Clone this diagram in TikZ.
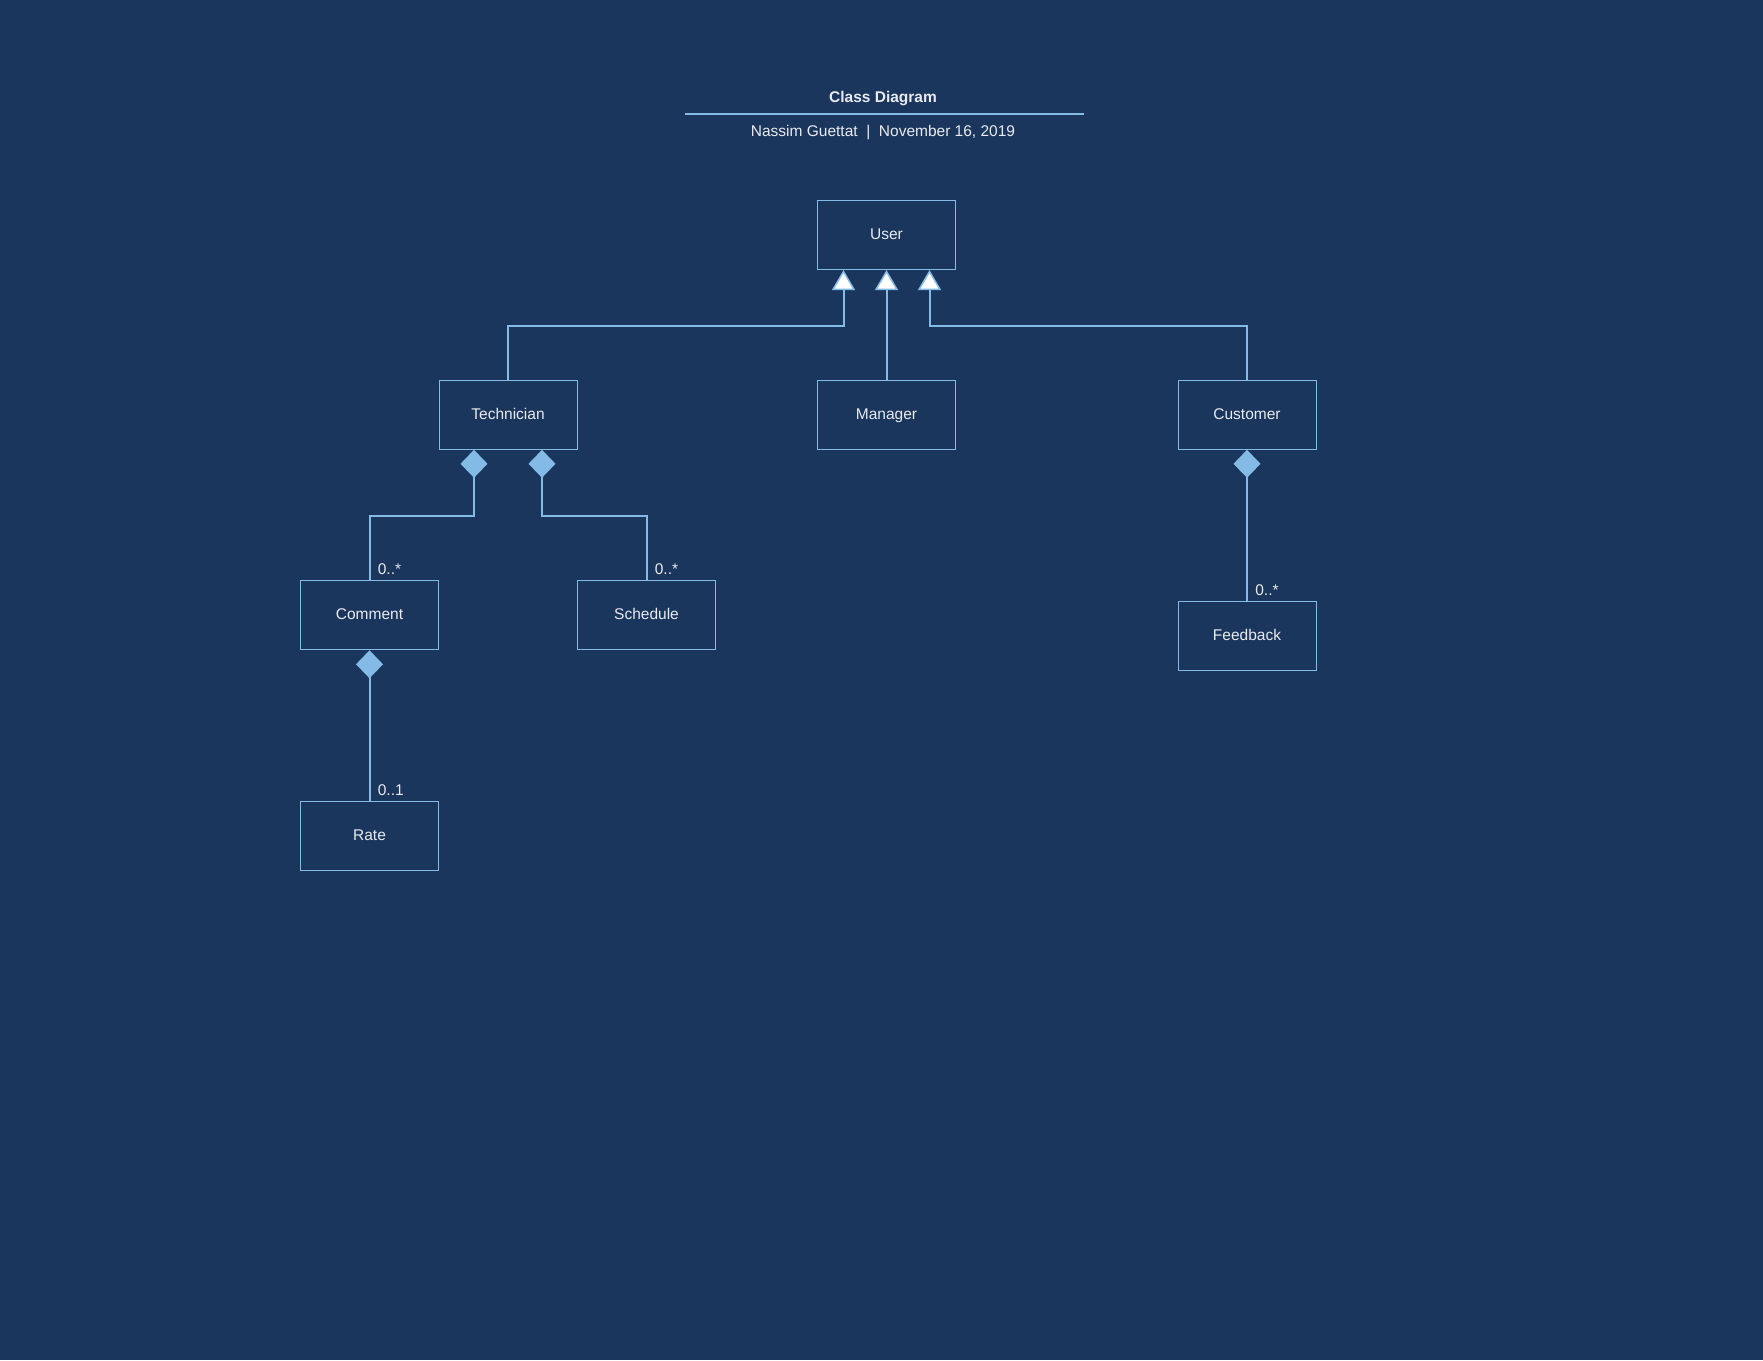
\documentclass[tikz,border=0pt]{standalone}
\usepackage{fontspec}
\setmainfont{Liberation Sans}
\usetikzlibrary{arrows.meta, calc}

\definecolor{navybg}{RGB}{27,54,93}
\definecolor{lineblue}{RGB}{132,187,230}
\definecolor{labelgray}{RGB}{232,234,238}

\begin{document}
\begin{tikzpicture}[x=1pt, y=-1pt,
    every node/.style={text=labelgray, font=\fontsize{15.5}{18}\selectfont},
    classbox/.style={draw=lineblue, line width=1pt, minimum width=138pt, minimum height=69pt,
        inner sep=0pt, text height=11pt, text depth=2pt},
    inherit/.style={draw=lineblue, line width=2pt,
        {Triangle[length=20pt, width=23pt, fill=white, line width=1.5pt]}-},
    compose/.style={draw=lineblue, line width=2pt,
        {Diamond[length=28pt, width=27pt, fill=lineblue]}-},
    mult/.style={anchor=base west, xshift=4pt, yshift=5.5pt}]
        % --- SETTINGS ---
        \def\W{1763}       % page width
        \def\H{1360}       % page height
        \def\Rise{55.5}    % drop from User to the bar
        \def\Drop{66}      % drop from a whole to its bar

        % --- BACKGROUND ---
        \fill[navybg] (0, 0) rectangle (\W, \H);

        % --- TITLE ---
        \node[font=\bfseries\fontsize{15.5}{18}\selectfont] (title) at (883, 99) {Class Diagram};
        \draw[lineblue, line width=2pt] (685, 113.7) -- (1084, 113.7);
        \node (subtitle) at (883, 133) {Nassim Guettat \ | \ November 16, 2019};

        % --- CLASSES ---
        \node[classbox] (user) at (886.5, 235) {User};
        \node[classbox] (technician) at (508, 414.8) {Technician};
        \node[classbox] (manager) at (886.5, 414.8) {Manager};
        \node[classbox] (customer) at (1247, 414.8) {Customer};
        \node[classbox] (comment) at (369.5, 615.3) {Comment};
        \node[classbox] (schedule) at (646.5, 615.3) {Schedule};
        \node[classbox] (feedback) at (1247, 636) {Feedback};
        \node[classbox] (rate) at (369.5, 835.5) {Rate};

        % --- ATTACHMENT POINTS ---
        \coordinate (u1) at ($(user.south)+(-43, 0)$);
        \coordinate (u3) at ($(user.south)+(43, 0)$);
        \coordinate (t1) at ($(technician.south)+(-34, 0)$);
        \coordinate (t2) at ($(technician.south)+(34, 0)$);

        % --- GENERALISATION (open triangles at User) ---
        \draw[inherit] (u1) -- ++(0, \Rise) -| (technician.north);
        \draw[inherit] (user.south) -- (manager.north);
        \draw[inherit] (u3) -- ++(0, \Rise) -| (customer.north);

        % --- COMPOSITION (filled diamonds at the whole) ---
        \draw[compose] (t1) -- ++(0, \Drop) -| (comment.north) node[mult] {0..*};
        \draw[compose] (t2) -- ++(0, \Drop) -| (schedule.north) node[mult] {0..*};
        \draw[compose] (customer.south) -- (feedback.north) node[mult] {0..*};
        \draw[compose] (comment.south) -- (rate.north) node[mult] {0..1};
    \end{tikzpicture}
\end{document}
